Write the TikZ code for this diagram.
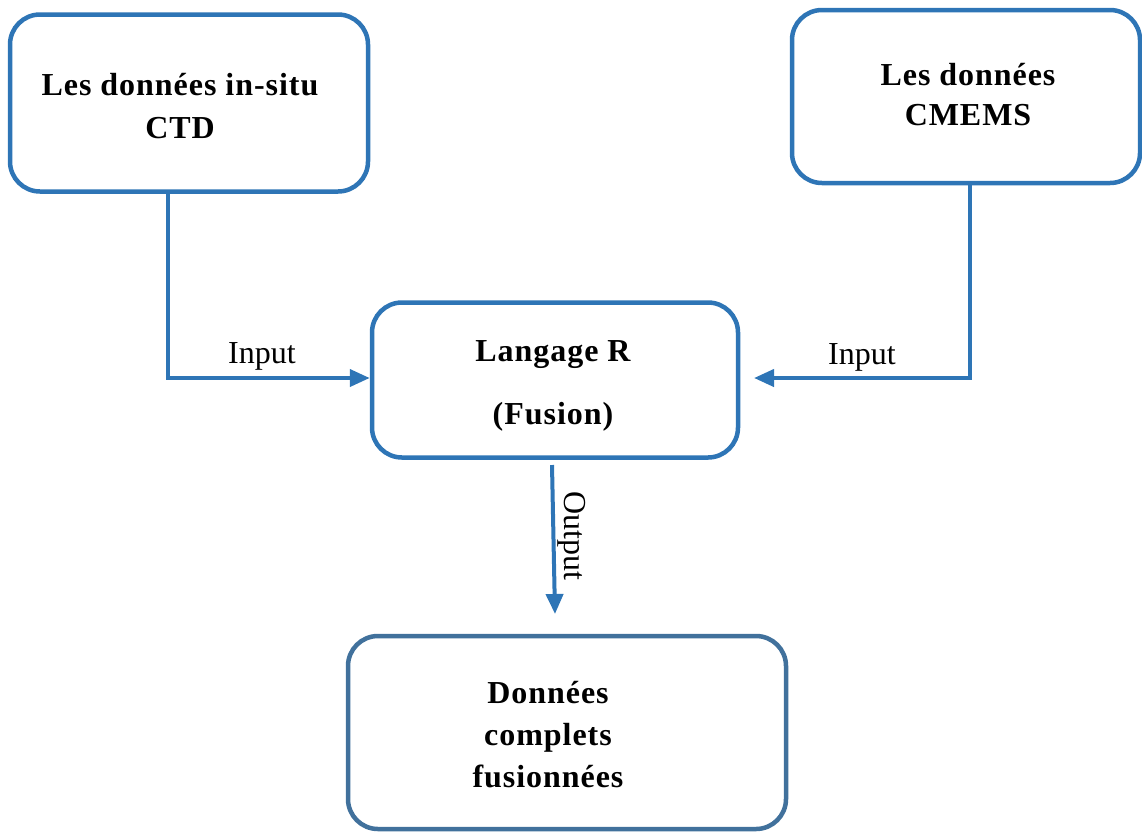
\documentclass[tikz,border=0pt]{standalone}
\usepackage{fontspec}
\setmainfont{Liberation Serif}
\newfontfamily\boldsp[LetterSpace=3]{Liberation Serif Bold}
\usetikzlibrary{arrows.meta}
\definecolor{boxblue}{HTML}{2E75B6}
\definecolor{boxblue2}{HTML}{41719C}
\tikzset{
  box/.style={draw=boxblue, line width=4.5pt, rounded corners=30pt, fill=white, inner sep=0pt},
  boxtext/.style={align=center, font=\boldsp\fontsize{32}{43}\selectfont, inner sep=0pt},
  conn/.style={draw=boxblue, line width=4pt, -{Triangle[length=20pt,width=17pt]}},
  lab/.style={font=\fontsize{32}{36}\selectfont, inner sep=0pt}
}
\begin{document}
\begin{tikzpicture}[x=1pt,y=-1pt]
\useasboundingbox (0,0) rectangle (1142,831);
% boxes
\node[box, minimum width=358pt, minimum height=177pt] (box1) at (189,103) {};
\node[box, minimum width=348pt, minimum height=173pt] (box2) at (966,96.5) {};
\node[box, minimum width=366pt, minimum height=155pt] (box3) at (555,380) {};
\node[box, draw=boxblue2, minimum width=438pt, minimum height=193pt] (box4) at (567,732.5) {};
% texts
\node[boxtext] (t1) at (180,106) {Les données in-situ\\CTD};
\node[boxtext, font=\boldsp\fontsize{32}{40}\selectfont] (t2) at (968,95) {Les données\\CMEMS};
\node[boxtext, font=\boldsp\fontsize{32}{63}\selectfont] (t3) at (553,386) {Langage R\\(Fusion)};
\node[boxtext, font=\boldsp\fontsize{32}{42}\selectfont] (t4) at (548,735) {Données\\complets\\fusionnées};
% connectors
\coordinate (l1) at (168,192);
\coordinate (r1) at (970,185);
\coordinate (rt) at (754,378);
\coordinate (o1) at (552,465);
\coordinate (o2) at (555,614);
\draw[conn] (l1) |- (box3.west |- rt);
\draw[conn] (r1) |- (rt);
\draw[conn] (o1) -- (o2);
% labels
\node[lab] (li) at (262,356) {Input};
\node[lab] (ri) at (862,357) {Input};
\node[lab, rotate=-90] (lo) at (572,536) {Output};
\end{tikzpicture}
\end{document}
